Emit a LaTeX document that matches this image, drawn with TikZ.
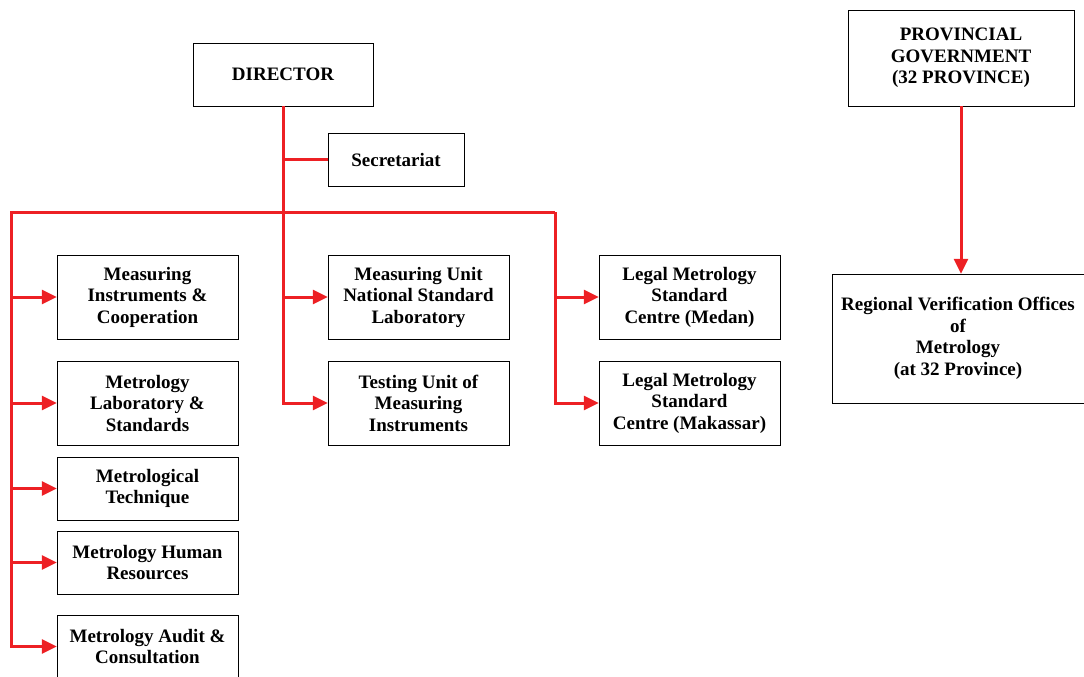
\documentclass[tikz,border=0pt]{standalone}
\usepackage{fontspec}
\setmainfont{Liberation Serif}
\usepackage{xcolor}
\usetikzlibrary{arrows.meta,positioning}
\definecolor{linkred}{RGB}{237,32,36}

\begin{document}
\begin{tikzpicture}[
    x=1pt, y=-1pt,
    every node/.style={font=\fontsize{19}{21.5}\selectfont\bfseries},
    box/.style={draw, thin, inner sep=0pt, minimum width=181pt, minimum height=84pt, align=center},
    link/.style={draw=linkred, line width=3pt},
    arr/.style={link, -{Triangle[length=15pt, width=14pt]}}
  ]
  \useasboundingbox (0,0) rectangle (1084,677);

  % top level
  \node[box, minimum width=180pt, minimum height=63pt] (dir) at (283,74.5) {DIRECTOR};
  \node[box, minimum width=136pt, minimum height=53pt] (sec) at (396,159.5) {Secretariat};
  \node[box, minimum width=226pt, minimum height=96pt] (prov) at (961,58) {PROVINCIAL\\GOVERNMENT\\(32 PROVINCE)};
  \node[box, minimum width=252pt, minimum height=129pt] (reg) at (958,338.5) {Regional Verification Offices\\of\\Metrology\\(at 32 Province)};

  % left column
  \node[box] (mic) at (147.5,297) {Measuring\\Instruments \&\\Cooperation};
  \node[box] (mls) at (147.5,403) {Metrology\\Laboratory \&\\Standards};
  \node[box, minimum height=63pt] (mt) at (147.5,488.5) {Metrological\\Technique};
  \node[box, minimum height=63pt] (mhr) at (147.5,562.5) {Metrology Human\\Resources};
  \node[box, minimum height=63pt] (mac) at (147.5,646.5) {Metrology Audit \&\\Consultation};

  % middle column
  \node[box] (munsl) at (418.5,297) {Measuring Unit\\National Standard\\Laboratory};
  \node[box] (tumi) at (418.5,403) {Testing Unit of\\Measuring\\Instruments};

  % right column
  \node[box] (medan) at (689.5,297) {Legal Metrology\\Standard\\Centre (Medan)};
  \node[box] (mak) at (689.5,403) {Legal Metrology\\Standard\\Centre (Makassar)};

  \coordinate (busl) at (11,212);
  \coordinate (busr) at (555,212);

  \draw[arr] (dir.south) |- (tumi.west);
  \draw[link] (dir.south |- sec.west) -- (sec.west);
  \draw[arr] (busr) -- (busl) |- (mac.west);
  \draw[arr] (busr) |- (mak.west);
  \foreach \n in {mic,mls,mt,mhr}
    \draw[arr] (busl |- \n.west) -- (\n.west);
  \draw[arr] (dir.south |- munsl.west) -- (munsl.west);
  \draw[arr] (busr |- medan.west) -- (medan.west);
  \draw[arr] (prov.south) -- (prov.south |- reg.north);
\end{tikzpicture}
\end{document}
